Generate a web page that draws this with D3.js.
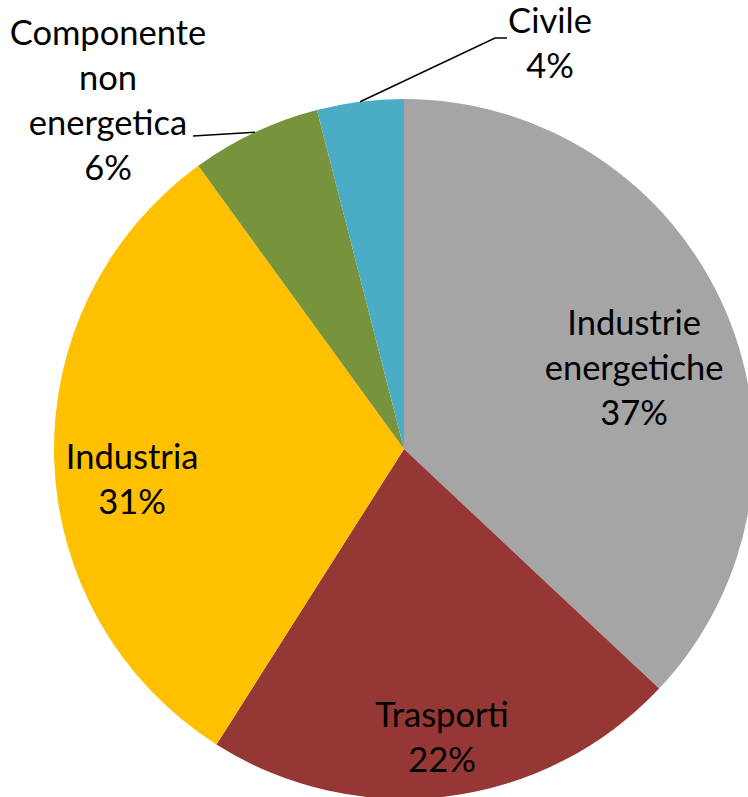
<!DOCTYPE html>
<html lang="it">
<head>
<meta charset="utf-8">
<title>Pie</title>
<script src="https://cdn.jsdelivr.net/npm/d3@7"></script>
<style>
  html, body { margin: 0; padding: 0; background: #fff; }
  text { font-family: Lato, "Open Sans", sans-serif; font-size: 34.5px; fill: #000; }
</style>
</head>
<body>
<div id="chart"></div>
<script>
// data, clockwise from 12 o'clock
var categories = ["Industrie energetiche", "Trasporti", "Industria", "Componente non energetica", "Civile"]
var values = [37, 22, 31, 6, 4]
var colors = ["#a5a5a5", "#953735", "#ffc000", "#77933c", "#4bacc6"]
var labelLines = [["Industrie", "energetiche"], ["Trasporti"], ["Industria"], ["Componente", "non", "energetica"], ["Civile"]]

var width = 748, height = 797
var cx = 404, cy = 449, R = 350
var lineH = 45

// label layout: inside labels sit at a fraction of the radius, outside ones get a leader
var layout = [
  {r: 0.696, da: 0.074},
  {r: 0.833, da: -0.005},
  {r: 0.782, da: -0.084},
  {out: true, elbow: [193, 136], end: [193, 136], tx: 108, ty: 45},
  {out: true, elbow: [495, 38], end: [507, 38], tx: 550, ty: 33}
]

var svg = d3.select("#chart").append("svg").attr("width", width).attr("height", height)
var g = svg.append("g").attr("transform", "translate(" + cx + "," + cy + ")")

var pie = d3.pie().sort(null).value(function(d) { return d })
var arcs = pie(values)
var arc = d3.arc().innerRadius(0).outerRadius(R)

g.selectAll("path")
  .data(arcs)
  .enter()
  .append("path")
  .attr("d", arc)
  .attr("fill", function(d, i) { return colors[i] })

arcs.forEach(function(d, i) {
  var L = layout[i]
  var lines = labelLines[i].concat([values[i] + "%"])
  var mid = (d.startAngle + d.endAngle) / 2
  var x, y
  if (L.out) {
    var px = cx + R * Math.sin(mid), py = cy - R * Math.cos(mid)
    svg.append("polyline")
      .attr("points", [[px, py], L.elbow, L.end].map(function(p) { return p.join(",") }).join(" "))
      .attr("fill", "none").attr("stroke", "#000").attr("stroke-width", 1.5)
    x = L.tx
    y = L.ty
  } else {
    var a = mid + L.da
    x = cx + L.r * R * Math.sin(a)
    y = cy - L.r * R * Math.cos(a) - (lines.length - 1) * lineH / 2 + 11
  }
  var t = svg.append("text").attr("text-anchor", "middle")
  lines.forEach(function(s, k) {
    t.append("tspan").attr("x", x).attr("y", y + k * lineH).text(s)
  })
})
</script>
</body>
</html>
